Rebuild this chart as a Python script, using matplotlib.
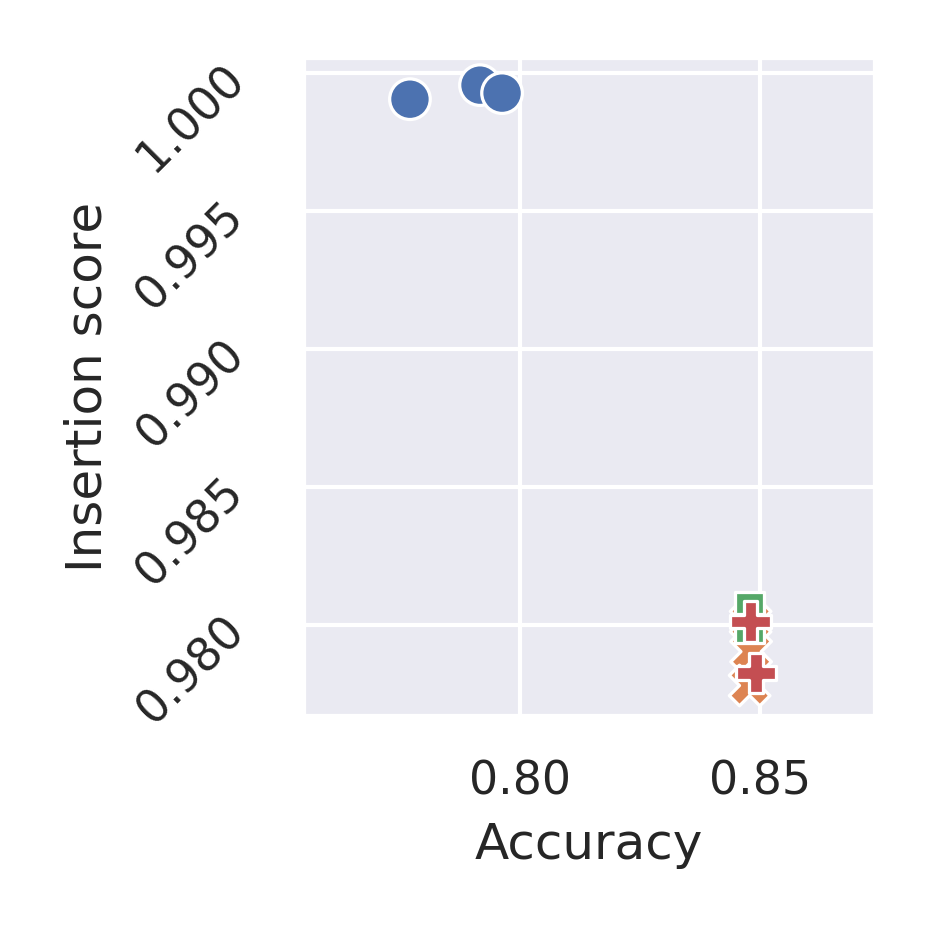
import numpy as np
import pandas as pd
import seaborn as sns
import matplotlib
matplotlib.use("Agg")
import matplotlib.pyplot as plt

sns.set_theme()

methods = ["A"] * 3 + ["B"] * 3 + ["C"] * 2 + ["D"] * 2
accuracy = [0.7771, 0.7917, 0.7963,
            0.8481, 0.8482, 0.8479,
            0.8479, 0.8479,
            0.8481, 0.8492]
insertion = [0.99905, 0.99956, 0.99927,
             0.98011, 0.97902, 0.97779,
             0.98066, 0.97985,
             0.98011, 0.97825]

df = pd.DataFrame({"Accuracy": accuracy, "Insertion score": insertion, "method": methods})

fig = plt.figure(figsize=(3.113, 3.113), dpi=300)
ax = fig.add_axes([0.3244, 0.2325, 0.6124, 0.7055])
sns.scatterplot(data=df, x="Accuracy", y="Insertion score", hue="method", style="method",
                markers=True, s=95, ax=ax, legend=False)

ax.set_xlim(0.7548, 0.874)
ax.set_ylim(0.97669, 1.00058)
ax.set_xticks([0.80, 0.85])
ax.set_yticks([0.980, 0.985, 0.990, 0.995, 1.000])
ax.set_xticklabels(["0.80", "0.85"])
ax.set_yticklabels(["0.980", "0.985", "0.990", "0.995", "1.000"], rotation=45)
ax.tick_params(axis="y", pad=6)
ax.tick_params(axis="x", pad=4.2)
ax.set_xlabel("Accuracy")
ax.set_ylabel("Insertion score")

fig.savefig("out.png", dpi=300)
